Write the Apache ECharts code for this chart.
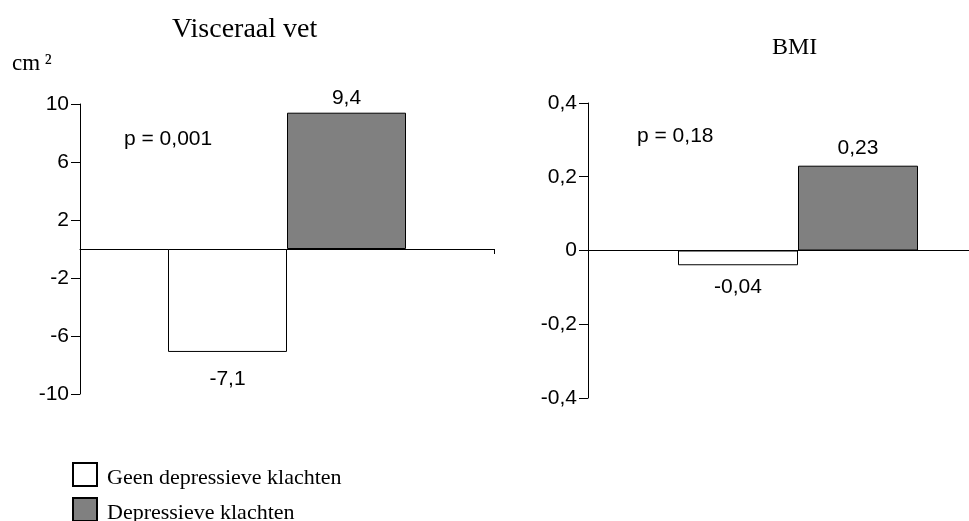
<!DOCTYPE html>
<html>
<head>
<meta charset="utf-8">
<script src="https://cdn.jsdelivr.net/npm/echarts@6/dist/echarts.min.js"></script>
<style>
html,body{margin:0;padding:0;background:#fff;}
#chart{width:969px;height:521px;}
</style>
</head>
<body>
<div id="chart"></div>
<script>
var categories = ['Visceraal vet', 'BMI'];
var seriesNames = ['Geen depressieve klachten', 'Depressieve klachten'];
var geenValues = [-7.1, -0.04];
var depressieveValues = [9.4, 0.23];
var pLabels = ['p = 0,001', 'p = 0,18'];
var unitLabel = 'cm\u2009\u00b2';

var chart = echarts.init(document.getElementById('chart'));
var SANS = '"Liberation Sans", Arial, sans-serif';
var SERIF = '"Liberation Serif", "Times New Roman", serif';

function comma(v, dec) {
  var s = (dec != null) ? String(+(+v).toFixed(dec)) : String(v);
  return s.replace('.', ',');
}

function barSeries(name, idx, value, color, pos, dist) {
  return {
    name: name,
    type: 'bar',
    xAxisIndex: idx,
    yAxisIndex: idx,
    data: [value],
    barWidth: idx === 0 ? 119 : 120,
    barGap: '0%',
    itemStyle: { color: color, borderColor: '#000', borderWidth: 1 },
    label: {
      show: true,
      position: pos,
      distance: dist,
      color: '#000',
      fontFamily: SANS,
      fontSize: 21,
      formatter: function (p) { return comma(p.value); }
    },
    emphasis: { disabled: true },
    animation: false
  };
}

var axisLineStyle = { color: '#000', width: 1 };
var legendBase = {
  orient: 'vertical',
  left: 72,
  padding: 0,
  itemWidth: 24,
  itemHeight: 23,
  icon: 'rect',
  formatter: function (name) { return '{t|' + name + '}'; },
  textStyle: { fontFamily: SERIF, fontSize: 22, color: '#000',
    rich: { t: { fontFamily: SERIF, fontSize: 22, color: '#000', padding: [8, 0, 0, 5] } } },
  selectedMode: false
};

var option = {
  backgroundColor: '#fff',
  animation: false,
  title: [
    { text: categories[0], left: 167, top: 11, textStyle: { fontFamily: SERIF, fontSize: 28, fontWeight: 'normal', color: '#000' } },
    { text: categories[1], left: 767, top: 31, textStyle: { fontFamily: SERIF, fontSize: 24, fontWeight: 'normal', color: '#000' } },
    { text: unitLabel, left: 7, top: 47, textStyle: { fontFamily: SERIF, fontSize: 23, fontWeight: 'normal', color: '#000' } }
  ],
  legend: [
    Object.assign({}, legendBase, { top: 462, data: [seriesNames[0]] }),
    Object.assign({}, legendBase, { top: 497, data: [seriesNames[1]] })
  ],
  grid: [
    { left: 80, top: 104, width: 414, height: 290, outerBoundsMode: 'none' },
    { left: 588, top: 103, width: 420, height: 295, outerBoundsMode: 'none' }
  ],
  xAxis: [
    { gridIndex: 0, type: 'category', data: [categories[0]], axisLine: { onZero: true, lineStyle: axisLineStyle },
      axisTick: { show: true, length: 5, lineStyle: axisLineStyle }, axisLabel: { show: false }, splitLine: { show: false } },
    { gridIndex: 1, type: 'category', data: [categories[1]], axisLine: { onZero: true, lineStyle: axisLineStyle },
      axisTick: { show: false }, axisLabel: { show: false }, splitLine: { show: false } }
  ],
  yAxis: [
    { gridIndex: 0, type: 'value', min: -10, max: 10, interval: 4,
      axisLine: { show: true, lineStyle: axisLineStyle }, axisTick: { show: true, length: 9, lineStyle: axisLineStyle },
      splitLine: { show: false },
      axisLabel: { margin: 11, color: '#000', fontFamily: SANS, fontSize: 21, formatter: function (v) { return comma(v, 0); } } },
    { gridIndex: 1, type: 'value', min: -0.4, max: 0.4, interval: 0.2,
      axisLine: { show: true, lineStyle: axisLineStyle }, axisTick: { show: true, length: 9, lineStyle: axisLineStyle },
      splitLine: { show: false },
      axisLabel: { margin: 11, color: '#000', fontFamily: SANS, fontSize: 21, formatter: function (v) { return comma(v, 1); } } }
  ],
  graphic: [
    { type: 'text', left: 124, top: 129, style: { text: pLabels[0], fill: '#000', font: '21px ' + SANS } },
    { type: 'text', left: 637, top: 126, style: { text: pLabels[1], fill: '#000', font: '21px ' + SANS } }
  ],
  series: [
    barSeries(seriesNames[0], 0, geenValues[0], '#ffffff', 'bottom', 17),
    barSeries(seriesNames[1], 0, depressieveValues[0], '#808080', 'top', 4),
    barSeries(seriesNames[0], 1, geenValues[1], '#ffffff', 'bottom', 11),
    barSeries(seriesNames[1], 1, depressieveValues[1], '#808080', 'top', 7)
  ]
};
chart.setOption(option);
</script>
</body>
</html>
